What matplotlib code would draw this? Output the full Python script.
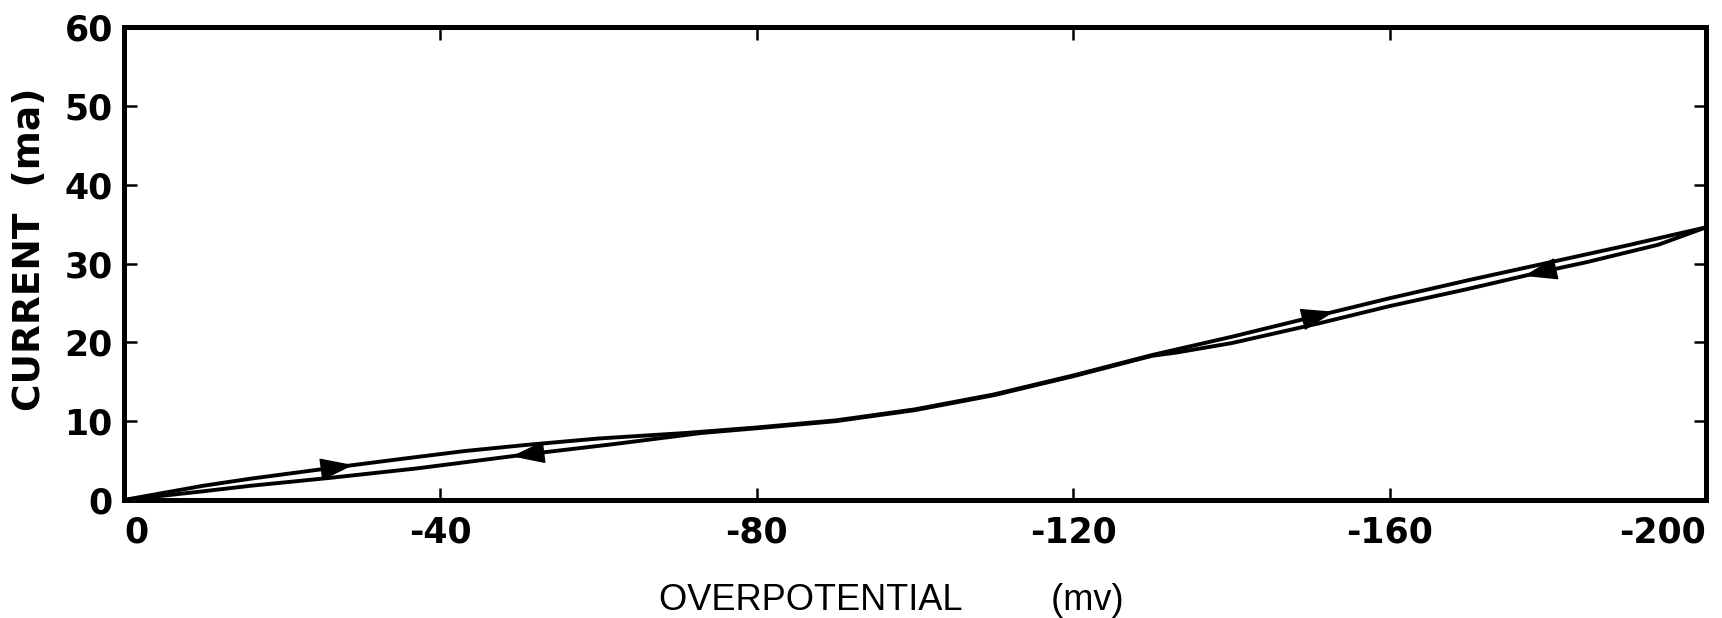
import numpy as np
import matplotlib.pyplot as plt

plt.rcParams['axes.unicode_minus'] = False

# forward sweep (upper branch): overpotential (mv) and current (ma)
fwd_mv = [0, -5, -10, -16, -22, -28, -35, -43, -51, -60, -71, -80, -90, -100,
          -110, -120, -130, -140, -151, -160, -170, -180, -190, -200]
fwd_ma = [0, 0.9, 1.8, 2.7, 3.5, 4.3, 5.2, 6.2, 7.0, 7.8, 8.5, 9.2, 10.1, 11.5,
          13.4, 15.8, 18.4, 20.7, 23.4, 25.6, 27.9, 30.1, 32.3, 34.6]

# return sweep (lower branch)
ret_mv = [-200, -194, -185, -179, -170, -160, -151, -140, -133, -130, -120, -110,
          -100, -90, -80, -73, -62, -51, -37, -26, -16, -10, -5, 0]
ret_ma = [34.6, 32.4, 30.2, 28.9, 26.8, 24.6, 22.4, 19.9, 18.7, 18.3, 15.7, 13.3,
          11.4, 10.0, 9.1, 8.5, 7.1, 5.8, 4.0, 2.8, 1.8, 1.1, 0.55, 0]

# where the direction arrows sit (tip position, mv)
fwd_arrows = [-29, -153]
ret_arrows = [-49, -177]

x_ticks = [0, -40, -80, -120, -160, -200]
x_labels = ['0', '-40', '-80', '-120', '-160', '-200']
y_ticks = [0, 10, 20, 30, 40, 50, 60]
y_labels = ['0', '10', '20', '30', '40', '50', '60']


def curve_at(xs, ys, x):
    xs = np.asarray(xs, dtype=float)
    ys = np.asarray(ys, dtype=float)
    order = np.argsort(xs)
    return np.interp(x, xs[order], ys[order])


fig = plt.figure(figsize=(17.22, 6.18), dpi=100)
ax = fig.add_axes([0.072, 0.191, 0.9187, 0.765])

ax.plot(fwd_mv, fwd_ma, color='black', lw=2.8, solid_capstyle='round')
ax.plot(ret_mv, ret_ma, color='black', lw=2.8, solid_capstyle='round')

# arrowheads along the branches
head = '-|>,head_length=0.9,head_width=0.3'
for x in fwd_arrows:
    ax.annotate('', xy=(x, curve_at(fwd_mv, fwd_ma, x)),
                xytext=(x + 4, curve_at(fwd_mv, fwd_ma, x + 4)),
                arrowprops=dict(arrowstyle=head, color='black', lw=1,
                                mutation_scale=24, shrinkA=0, shrinkB=0))
for x in ret_arrows:
    ax.annotate('', xy=(x, curve_at(ret_mv, ret_ma, x)),
                xytext=(x - 4, curve_at(ret_mv, ret_ma, x - 4)),
                arrowprops=dict(arrowstyle=head, color='black', lw=1,
                                mutation_scale=24, shrinkA=0, shrinkB=0))

ax.set_xlim(0, -200)
ax.set_ylim(0, 60)

for s in ax.spines.values():
    s.set_linewidth(3.6)

ax.set_xticks(x_ticks)
ax.set_xticklabels(x_labels)
ax.set_yticks(y_ticks)
ax.set_yticklabels(y_labels)
ax.tick_params(direction='in', length=9, width=1.8, top=True, right=True,
               labelsize=25)
ax.tick_params(axis='y', pad=8)
ax.tick_params(axis='x', pad=11)
for lab in ax.get_xticklabels() + ax.get_yticklabels():
    lab.set_fontweight('bold')
xl = ax.get_xticklabels()
xl[0].set_horizontalalignment('left')
xl[-1].set_horizontalalignment('right')

ax.set_ylabel('CURRENT  (ma)', fontsize=27, fontweight='bold')
ax.yaxis.set_label_coords(-0.048, 0.53)
ax.set_xlabel('OVERPOTENTIAL         (mv)', fontsize=26,
              family=['Liberation Sans', 'DejaVu Sans'])
ax.xaxis.set_label_coords(0.485, -0.175)

fig.savefig('out.png', dpi=100)
